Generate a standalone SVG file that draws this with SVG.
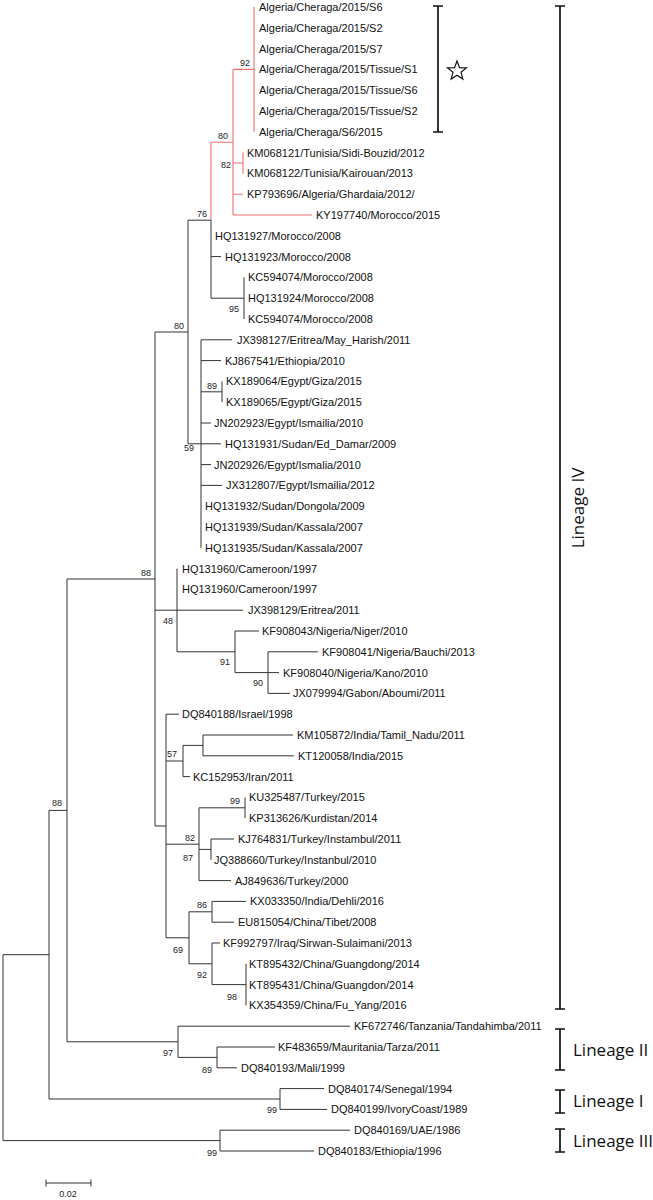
<svg xmlns="http://www.w3.org/2000/svg" width="653" height="1200" viewBox="0 0 653 1200">
<style>
.br{fill:none;stroke:#333;stroke-width:1}
.hl{fill:none;stroke:#ef6f6f;stroke-width:1.1}
.lf{font-family:"Liberation Sans",Arial,sans-serif;font-size:11px;fill:#111}
.bs{font-family:"Liberation Sans",Arial,sans-serif;font-size:9px;fill:#222;text-anchor:end}
.bk{fill:none;stroke:#111;stroke-width:1.7}
.ln{font-family:"Open Sans","Noto Sans",sans-serif;font-size:17px;fill:#111}
</style>
<rect width="653" height="1200" fill="#fff"/>
<g id="connectors">
<path class="br" d="M188 220.2H211M211 220.2V298.2M211 256.6H221M211 298.2H244M244 277.4V319M155 332H188M188 220.2V443.8M188 443.8H201M201 339.8V547.8M201 339.8H232M201 360.6H221M201 391.8H222M222 381.4V402.2M201 423H211M201 443.8H221M201 464.6H211M201 485.4H222M155 610.2H177M177 568.6V651.8M177 610.2H243M177 651.8H235M235 631V672.6M235 631H259M235 672.6H268M268 651.8V693.4M268 651.8H318M268 672.6H279M268 693.4H290M155 826H166M166 714.2V937.8M166 714.2H179M166 761H183M183 745.4V776.6M183 745.4H203M203 735V755.8M203 735H293M203 755.8H294M183 776.6H190M166 844.2H199M199 807.8V880.6M199 807.8H245M245 797.4V818.2M199 849.4H211M211 839V859.8M211 839H234M199 880.6H231M166 937.8H189M189 911.8V963.8M189 911.8H212M212 901.4V922.2M212 901.4H246M212 922.2H234M189 963.8H212M212 943V984.6M212 943H220M212 984.6H246M246 963.8V1005.4M67 579H155M155 332V826M49 810.4H67M67 579V1041.8M67 1041.8H178M178 1026.2V1057.4M178 1026.2H350M178 1057.4H217M217 1047V1067.8M217 1047H275M217 1067.8H237M49 1099H280M280 1088.6V1109.4M280 1088.6H324M280 1109.4H327M3 954.7H49M49 810.4V1099M3 1140.6H220M220 1130.2V1151M220 1130.2H350M220 1151H314M3 954.7V1140.6"/>
<path class="hl" d="M211 142.2V220.2M211 142.2H233M233 69.4V215M233 69.4H254M254 7V131.8M233 163H243M243 152.6V173.4M233 194.2H243M233 215H312"/>
</g>
<g id="leaves">
<g id="leaf-01"><text class="lf" x="259" y="11">Algeria/Cheraga/2015/S6</text></g>
<g id="leaf-02"><text class="lf" x="259" y="31.8">Algeria/Cheraga/2015/S2</text></g>
<g id="leaf-03"><text class="lf" x="259" y="52.6">Algeria/Cheraga/2015/S7</text></g>
<g id="leaf-04"><text class="lf" x="259" y="73.4">Algeria/Cheraga/2015/Tissue/S1</text></g>
<g id="leaf-05"><text class="lf" x="259" y="94.2">Algeria/Cheraga/2015/Tissue/S6</text></g>
<g id="leaf-06"><text class="lf" x="259" y="115">Algeria/Cheraga/2015/Tissue/S2</text></g>
<g id="leaf-07"><text class="lf" x="259" y="135.8">Algeria/Cheraga/S6/2015</text></g>
<g id="leaf-08"><text class="lf" x="247" y="156.6">KM068121/Tunisia/Sidi-Bouzid/2012</text></g>
<g id="leaf-09"><text class="lf" x="247" y="177.4">KM068122/Tunisia/Kairouan/2013</text></g>
<g id="leaf-10"><text class="lf" x="247" y="198.2">KP793696/Algeria/Ghardaia/2012/</text></g>
<g id="leaf-11"><text class="lf" x="316" y="219">KY197740/Morocco/2015</text></g>
<g id="leaf-12"><text class="lf" x="215" y="239.8">HQ131927/Morocco/2008</text></g>
<g id="leaf-13"><text class="lf" x="225" y="260.6">HQ131923/Morocco/2008</text></g>
<g id="leaf-14"><text class="lf" x="248" y="281.4">KC594074/Morocco/2008</text></g>
<g id="leaf-15"><text class="lf" x="248" y="302.2">HQ131924/Morocco/2008</text></g>
<g id="leaf-16"><text class="lf" x="248" y="323">KC594074/Morocco/2008</text></g>
<g id="leaf-17"><text class="lf" x="237" y="343.8">JX398127/Eritrea/May_Harish/2011</text></g>
<g id="leaf-18"><text class="lf" x="225" y="364.6">KJ867541/Ethiopia/2010</text></g>
<g id="leaf-19"><text class="lf" x="226" y="385.4">KX189064/Egypt/Giza/2015</text></g>
<g id="leaf-20"><text class="lf" x="226" y="406.2">KX189065/Egypt/Giza/2015</text></g>
<g id="leaf-21"><text class="lf" x="214" y="427">JN202923/Egypt/Ismailia/2010</text></g>
<g id="leaf-22"><text class="lf" x="225" y="447.8">HQ131931/Sudan/Ed_Damar/2009</text></g>
<g id="leaf-23"><text class="lf" x="214" y="468.6">JN202926/Egypt/Ismalia/2010</text></g>
<g id="leaf-24"><text class="lf" x="226" y="489.4">JX312807/Egypt/Ismailia/2012</text></g>
<g id="leaf-25"><text class="lf" x="205" y="510.2">HQ131932/Sudan/Dongola/2009</text></g>
<g id="leaf-26"><text class="lf" x="205" y="531">HQ131939/Sudan/Kassala/2007</text></g>
<g id="leaf-27"><text class="lf" x="205" y="551.8">HQ131935/Sudan/Kassala/2007</text></g>
<g id="leaf-28"><text class="lf" x="182" y="572.6">HQ131960/Cameroon/1997</text></g>
<g id="leaf-29"><text class="lf" x="182" y="593.4">HQ131960/Cameroon/1997</text></g>
<g id="leaf-30"><text class="lf" x="248" y="614.2">JX398129/Eritrea/2011</text></g>
<g id="leaf-31"><text class="lf" x="262" y="635">KF908043/Nigeria/Niger/2010</text></g>
<g id="leaf-32"><text class="lf" x="322" y="655.8">KF908041/Nigeria/Bauchi/2013</text></g>
<g id="leaf-33"><text class="lf" x="283" y="676.6">KF908040/Nigeria/Kano/2010</text></g>
<g id="leaf-34"><text class="lf" x="293" y="697.4">JX079994/Gabon/Aboumi/2011</text></g>
<g id="leaf-35"><text class="lf" x="182" y="718.2">DQ840188/Israel/1998</text></g>
<g id="leaf-36"><text class="lf" x="297" y="739">KM105872/India/Tamil_Nadu/2011</text></g>
<g id="leaf-37"><text class="lf" x="298" y="759.8">KT120058/India/2015</text></g>
<g id="leaf-38"><text class="lf" x="193" y="780.6">KC152953/Iran/2011</text></g>
<g id="leaf-39"><text class="lf" x="249" y="801.4">KU325487/Turkey/2015</text></g>
<g id="leaf-40"><text class="lf" x="249" y="822.2">KP313626/Kurdistan/2014</text></g>
<g id="leaf-41"><text class="lf" x="238" y="843">KJ764831/Turkey/Instambul/2011</text></g>
<g id="leaf-42"><text class="lf" x="214" y="863.8">JQ388660/Turkey/Instanbul/2010</text></g>
<g id="leaf-43"><text class="lf" x="235" y="884.6">AJ849636/Turkey/2000</text></g>
<g id="leaf-44"><text class="lf" x="250" y="905.4">KX033350/India/Dehli/2016</text></g>
<g id="leaf-45"><text class="lf" x="238" y="926.2">EU815054/China/Tibet/2008</text></g>
<g id="leaf-46"><text class="lf" x="223" y="947">KF992797/Iraq/Sirwan-Sulaimani/2013</text></g>
<g id="leaf-47"><text class="lf" x="249" y="967.8">KT895432/China/Guangdong/2014</text></g>
<g id="leaf-48"><text class="lf" x="249" y="988.6">KT895431/China/Guangdon/2014</text></g>
<g id="leaf-49"><text class="lf" x="249" y="1009.4">KX354359/China/Fu_Yang/2016</text></g>
<g id="leaf-50"><text class="lf" x="354" y="1030.2">KF672746/Tanzania/Tandahimba/2011</text></g>
<g id="leaf-51"><text class="lf" x="278" y="1051">KF483659/Mauritania/Tarza/2011</text></g>
<g id="leaf-52"><text class="lf" x="241" y="1071.8">DQ840193/Mali/1999</text></g>
<g id="leaf-53"><text class="lf" x="328" y="1092.6">DQ840174/Senegal/1994</text></g>
<g id="leaf-54"><text class="lf" x="331" y="1113.4">DQ840199/IvoryCoast/1989</text></g>
<g id="leaf-55"><text class="lf" x="354" y="1134.2">DQ840169/UAE/1986</text></g>
<g id="leaf-56"><text class="lf" x="318" y="1155">DQ840183/Ethiopia/1996</text></g>
</g>
<g id="bootstrap">
<g id="n92a"><text class="bs" x="250" y="66">92</text></g>
<g id="n80a"><text class="bs" x="228" y="139">80</text></g>
<g id="n82a"><text class="bs" x="231" y="168">82</text></g>
<g id="n76"><text class="bs" x="207" y="217">76</text></g>
<g id="n95"><text class="bs" x="239" y="312">95</text></g>
<g id="n80b"><text class="bs" x="184" y="329">80</text></g>
<g id="n89a"><text class="bs" x="217" y="389">89</text></g>
<g id="n59"><text class="bs" x="194" y="451">59</text></g>
<g id="n88a"><text class="bs" x="151" y="576">88</text></g>
<g id="n48"><text class="bs" x="173" y="624">48</text></g>
<g id="n91"><text class="bs" x="230" y="665">91</text></g>
<g id="n90"><text class="bs" x="263" y="686">90</text></g>
<g id="n57"><text class="bs" x="177" y="757">57</text></g>
<g id="n99a"><text class="bs" x="240" y="804">99</text></g>
<g id="n82b"><text class="bs" x="195" y="841">82</text></g>
<g id="n87"><text class="bs" x="193" y="861">87</text></g>
<g id="n86"><text class="bs" x="207" y="908">86</text></g>
<g id="n69"><text class="bs" x="183" y="953">69</text></g>
<g id="n92b"><text class="bs" x="207" y="978">92</text></g>
<g id="n98"><text class="bs" x="237" y="1000">98</text></g>
<g id="n88b"><text class="bs" x="62" y="806">88</text></g>
<g id="n97"><text class="bs" x="173" y="1056">97</text></g>
<g id="n89b"><text class="bs" x="212" y="1073">89</text></g>
<g id="n99b"><text class="bs" x="277" y="1113">99</text></g>
<g id="n99c"><text class="bs" x="217" y="1156">99</text></g>
</g>
<g id="bracket-cheraga">
<path class="bk" d="M438 6V132M433 6H443M433 132H443"/>
<polygon points="457,61 459.5,67.6 466.5,67.9 461,72.3 462.9,79.1 457,75.2 451.1,79.1 453,72.3 447.5,67.9 454.5,67.6" fill="none" stroke="#111" stroke-width="1.2" stroke-linejoin="miter"/>
</g>
<g id="bracket-lineage-iv">
<path class="bk" d="M560 6V1009M555 6H565M555 1009H565"/>
<text class="ln" transform="translate(584 508) rotate(-90)" text-anchor="middle">Lineage IV</text>
</g>
<g id="bracket-lineage-ii">
<path class="bk" d="M560 1029V1070M555 1029H565M555 1070H565"/>
<text class="ln" x="573" y="1056">Lineage II</text>
</g>
<g id="bracket-lineage-i">
<path class="bk" d="M560 1090V1113M555 1090H565M555 1113H565"/>
<text class="ln" x="573" y="1107">Lineage I</text>
</g>
<g id="bracket-lineage-iii">
<path class="bk" d="M560 1129V1152M555 1129H565M555 1152H565"/>
<text class="ln" x="573" y="1147">Lineage III</text>
</g>
<g id="scale-bar">
<path class="br" d="M46 1183H91M46 1179.5V1186.5M91 1179.5V1186.5"/>
<text class="bs" x="68" y="1197" text-anchor="middle" style="text-anchor:middle">0.02</text>
</g>
</svg>
